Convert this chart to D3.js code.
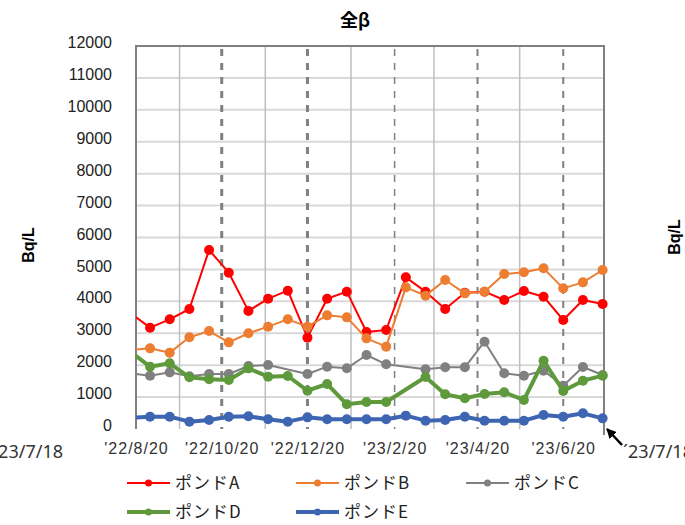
<!DOCTYPE html>
<html>
<head>
<meta charset="utf-8">
<script src="https://cdn.jsdelivr.net/npm/d3@7"></script>
<style>
  body { margin: 0; background: #fff; }
  svg { display: block; }
</style>
</head>
<body>
<svg id="chart"></svg>
<script>
var width = 685;
var height = 525;

// sampling dates (every two weeks)
var dates = ['2022-08-16', '2022-08-30', '2022-09-13', '2022-09-27', '2022-10-11', '2022-10-25',
  '2022-11-08', '2022-11-22', '2022-12-06', '2022-12-20', '2023-01-03', '2023-01-17',
  '2023-01-31', '2023-02-14', '2023-02-28', '2023-03-14', '2023-03-28', '2023-04-11',
  '2023-04-25', '2023-05-09', '2023-05-23', '2023-06-06', '2023-06-20', '2023-07-04', '2023-07-18'];

var pondA = [3630, 3175, 3436, 3760, 5608, 4898, 3700, 4083, 4334, 2862, 4083, 4303, 3039,
  3102, 4752, 4303, 3760, 4271, 4303, 4042, 4324, 4146, 3415, 4042, 3916];
var pondB = [2480, 2527, 2392, 2872, 3070, 2715, 3000, 3206, 3436, 3206, 3561, 3498, 2840,
  2580, 4438, 4178, 4668, 4250, 4303, 4856, 4909, 5034, 4407, 4595, 4981];
var pondC = [1740, 1671, 1775, 1650, 1723, 1723, 1974, 2005, null, 1723, 1953, 1901, 2318,
  2026, null, 1869, 1932, 1932, 2736, 1744, 1671, 1828, 1358, 1943, 1692];
var pondD = [2424, 1953, 2057, 1619, 1556, 1535, 1900, 1640, 1660, 1201, 1410, 773, 846,
  846, null, 1629, 1086, 961, 1097, 1149, 909, 2141, 1190, 1514, 1671];
var pondE = [350, 386, 386, 230, 282, 386, 400, 303, 230, 365, 303, 303, 303,
  303, 418, 261, 282, 386, 261, 261, 261, 439, 386, 491, 334];

var seriesNames = ['ポンドA', 'ポンドB', 'ポンドC', 'ポンドD', 'ポンドE'];
var seriesValues = [pondA, pondB, pondC, pondD, pondE];
var seriesColors = ['#ff0000', '#ed7d31', '#808080', '#5e9a3c', '#3e65b2'];
var seriesWidths = [2, 2, 2, 4, 4];

var yTicks = d3.range(0, 12001, 1000);
var xLabelDates = ['2022-08-20', '2022-10-20', '2022-12-20', '2023-02-20', '2023-04-20', '2023-06-20'];
var xMinorDates = ['2022-09-20', '2022-11-20', '2023-01-20', '2023-03-20', '2023-05-20'];
var dashWidths = [3, 3, 1.5, 2, 2];

var parse = d3.timeParse('%Y-%m-%d');

var plotLeft = 136, plotRight = 604, plotTop = 46, plotBottom = 429;

var xScale = d3.scaleTime()
  .domain([parse('2022-08-20'), parse('2023-07-19')])
  .range([plotLeft, plotRight]);

var yScale = d3.scaleLinear()
  .domain([0, 12000])
  .range([plotBottom, plotTop]);

var svg = d3.select('#chart')
  .attr('width', width)
  .attr('height', height);

svg.append('defs').append('clipPath')
  .attr('id', 'plot-clip')
  .append('rect')
  .attr('x', plotLeft).attr('y', 0)
  .attr('width', width - plotLeft).attr('height', height);

// horizontal grid
svg.append('g')
  .selectAll('line')
  .data(yTicks.filter(d => d > 0 && d < 12000))
  .enter()
  .append('line')
    .attr('x1', plotLeft).attr('x2', plotRight)
    .attr('y1', d => yScale(d)).attr('y2', d => yScale(d))
    .attr('stroke', '#d9d9d9')
    .attr('stroke-width', 2);

// monthly vertical grid
svg.append('g')
  .selectAll('line')
  .data(xMinorDates)
  .enter()
  .append('line')
    .attr('x1', d => xScale(parse(d))).attr('x2', d => xScale(parse(d)))
    .attr('y1', plotTop).attr('y2', plotBottom)
    .attr('stroke', '#bfbfbf')
    .attr('stroke-width', 1.5);

// dashed lines at labelled months
svg.append('g')
  .selectAll('line')
  .data(xLabelDates.slice(1))
  .enter()
  .append('line')
    .attr('x1', d => xScale(parse(d))).attr('x2', d => xScale(parse(d)))
    .attr('y1', plotTop + 3).attr('y2', plotBottom)
    .attr('stroke', '#808080')
    .attr('stroke-width', (d, i) => dashWidths[i])
    .attr('stroke-dasharray', '7,7');

// plot border (top, left, right)
svg.append('path')
  .attr('d', `M${plotLeft},${plotBottom}V${plotTop}H${plotRight}V${plotBottom + 6}`)
  .attr('fill', 'none')
  .attr('stroke', '#808080')
  .attr('stroke-width', 2);

// y axis labels
var yAxis = svg.append('g')
  .attr('transform', `translate(${plotLeft - 22}, 0)`)
  .call(d3.axisLeft(yScale)
    .tickValues(yTicks)
    .tickSize(0)
    .tickPadding(2)
    .tickFormat(d3.format('d')));
yAxis.select('.domain').remove();
yAxis.selectAll('text')
  .attr('dy', '0.1em')
  .style('font-family', '"Liberation Sans", Arial, sans-serif')
  .style('font-size', '16px')
  .style('fill', '#222');

// x axis labels
var xAxis = svg.append('g')
  .attr('transform', `translate(0, ${plotBottom})`)
  .call(d3.axisBottom(xScale)
    .tickValues(xLabelDates.map(parse))
    .tickSize(0)
    .tickPadding(14)
    .tickFormat(d3.timeFormat("'%y/%-m/%-d")));
xAxis.select('.domain').remove();
xAxis.selectAll('text')
  .style('font-family', '"Liberation Sans", Arial, sans-serif')
  .style('font-size', '16px')
  .style('letter-spacing', '1px')
  .style('fill', '#333');

// series
var line = d3.line()
  .x(d => xScale(d.date))
  .y(d => yScale(d.value));

var plot = svg.append('g').attr('clip-path', 'url(#plot-clip)');

seriesValues.forEach(function(vals, s){
  var pts = dates.map((d, i) => ({date: parse(d), value: vals[i]}))
    .filter(d => d.value !== null);

  plot.append('path')
    .datum(pts)
    .attr('fill', 'none')
    .attr('stroke', seriesColors[s])
    .attr('stroke-width', seriesWidths[s])
    .attr('stroke-linejoin', 'round')
    .attr('d', line);

  plot.append('g')
    .selectAll('circle')
    .data(pts)
    .enter()
    .append('circle')
      .attr('cx', d => xScale(d.date))
      .attr('cy', d => yScale(d.value))
      .attr('r', 5)
      .attr('fill', seriesColors[s]);
});

// title
svg.append('text')
  .attr('x', 355).attr('y', 27)
  .style('text-anchor', 'middle')
  .style('font-family', '"Noto Sans CJK JP", sans-serif')
  .style('font-size', '18px')
  .style('font-weight', 'bold')
  .text('全β');

// axis titles
svg.append('text')
  .attr('transform', 'translate(34, 245) rotate(-90)')
  .style('text-anchor', 'middle')
  .style('font-family', '"Liberation Sans", Arial, sans-serif')
  .style('font-size', '16px')
  .style('font-weight', 'bold')
  .text('Bq/L');

svg.append('text')
  .attr('transform', 'translate(680, 237) rotate(-90)')
  .style('text-anchor', 'middle')
  .style('font-family', '"Liberation Sans", Arial, sans-serif')
  .style('font-size', '16px')
  .style('font-weight', 'bold')
  .text('Bq/L');

// date notes (cut off at the page edges, as in the source)
svg.append('text')
  .attr('x', 63).attr('y', 458)
  .style('text-anchor', 'end')
  .style('font-family', '"Noto Sans", sans-serif')
  .style('font-size', '18px')
  .style('fill', '#333')
  .text('´23/7/18');

svg.append('text')
  .attr('x', 623).attr('y', 458)
  .style('font-family', '"Noto Sans", sans-serif')
  .style('font-size', '18px')
  .style('fill', '#333')
  .text('´23/7/18');

// arrow to the last date
svg.append('defs').append('marker')
  .attr('id', 'arrow')
  .attr('viewBox', '0 0 10 10')
  .attr('refX', 9).attr('refY', 5)
  .attr('markerWidth', 4).attr('markerHeight', 4)
  .attr('orient', 'auto')
  .append('path')
  .attr('d', 'M0,0L10,5L0,10z')
  .attr('fill', '#000');

svg.append('line')
  .attr('x1', 622).attr('y1', 445)
  .attr('x2', 607).attr('y2', 429)
  .attr('stroke', '#000')
  .attr('stroke-width', 2.5)
  .attr('marker-end', 'url(#arrow)');

// legend
var legendPos = [[127, 483], [296, 483], [466, 483], [127, 512], [296, 512]];
var legend = svg.append('g')
  .selectAll('g')
  .data(seriesNames)
  .enter()
  .append('g')
    .attr('transform', (d, i) => `translate(${legendPos[i][0]}, ${legendPos[i][1]})`);

legend.append('line')
  .attr('x1', 0).attr('x2', 43)
  .attr('stroke', (d, i) => seriesColors[i])
  .attr('stroke-width', (d, i) => seriesWidths[i]);

legend.append('circle')
  .attr('cx', 21.5)
  .attr('r', 3.5)
  .attr('fill', (d, i) => seriesColors[i]);

legend.append('text')
  .attr('x', 48)
  .attr('dy', '0.36em')
  .style('font-family', '"Noto Sans CJK JP", sans-serif')
  .style('font-size', '17px')
  .style('letter-spacing', '1px')
  .style('fill', '#222')
  .text(d => d);
</script>
</body>
</html>
